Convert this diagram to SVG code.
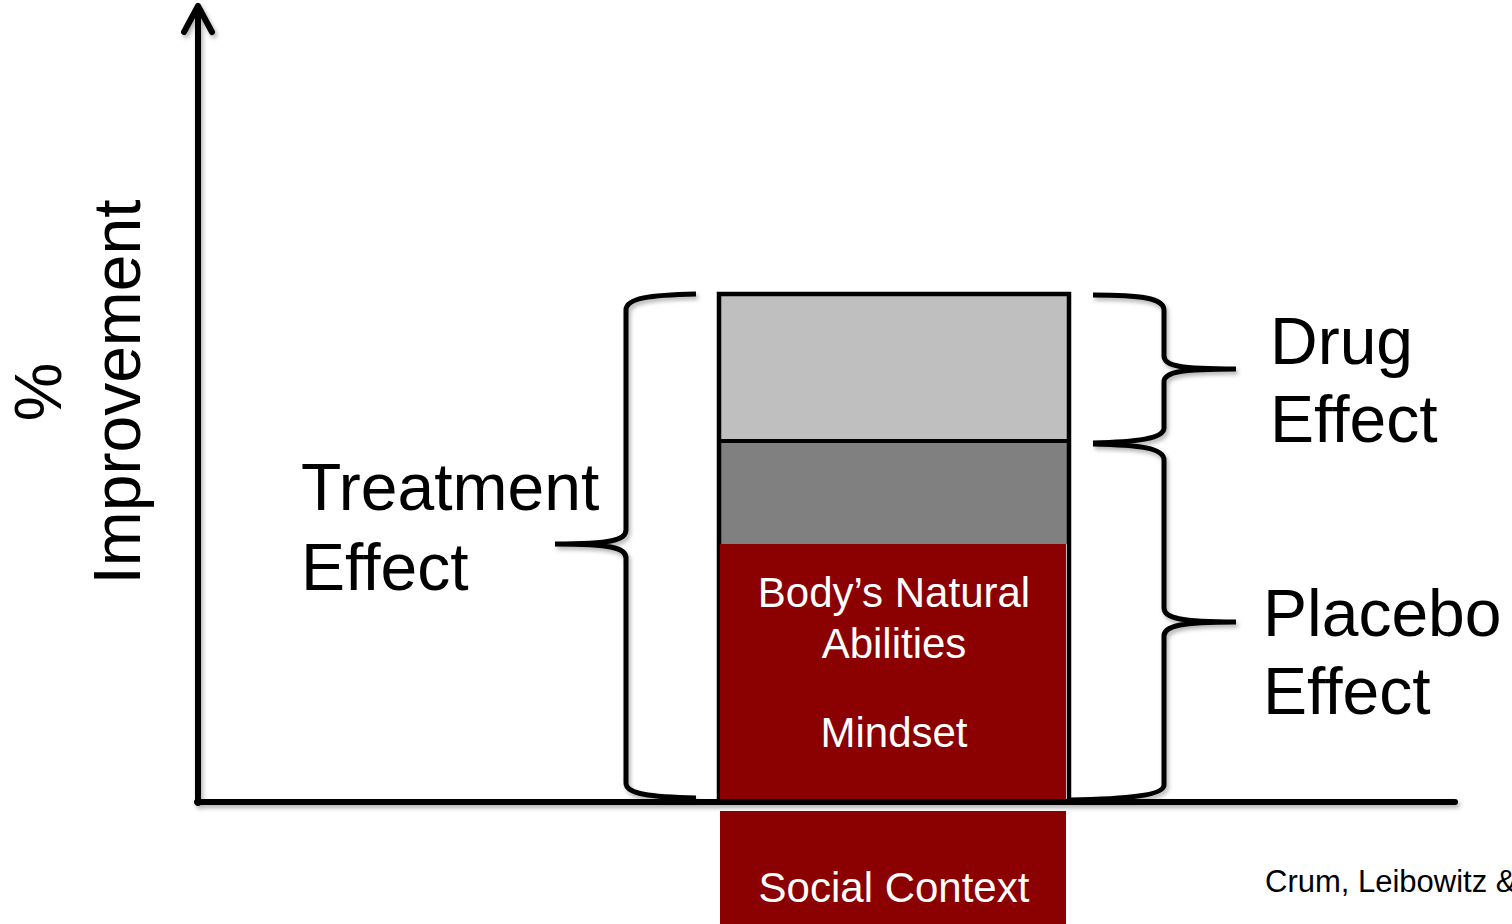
<svg xmlns="http://www.w3.org/2000/svg" width="1512" height="924" viewBox="0 0 1512 924">
<defs>
<filter id="sh" x="-10%" y="-10%" width="120%" height="120%">
<feDropShadow dx="2" dy="3" stdDeviation="2" flood-color="#000" flood-opacity="0.3"/>
</filter>
</defs>
<style>
.ln{fill:none;stroke:#000;stroke-width:6;stroke-linecap:round;stroke-linejoin:round}
.br{fill:none;stroke:#000;stroke-width:5;stroke-linecap:butt}
.big{font-family:"Liberation Sans",Arial,sans-serif;font-size:66px;fill:#000}
.wt{font-family:"Liberation Sans",Arial,sans-serif;font-size:42px;fill:#fff;text-anchor:middle}
.ax{font-family:"Liberation Sans",Arial,sans-serif;font-size:66px;fill:#000;text-anchor:middle}
</style>
<rect width="1512" height="924" fill="#fff"/>
<g id="axis-label">
<text class="ax" transform="translate(61,392) rotate(-90)">%</text>
<text class="ax" transform="translate(140,392) rotate(-90)">Improvement</text>
</g>
<g id="bar">
<rect x="719" y="294" width="350" height="147" fill="#bfbfbf"/>
<rect x="719" y="441" width="350" height="103" fill="#808080"/>
<rect x="719" y="294" width="350" height="508" fill="none" stroke="#000" stroke-width="4.5"/>
<line x1="719" y1="441" x2="1069" y2="441" stroke="#000" stroke-width="4"/>
<rect x="720" y="544" width="346" height="258" fill="#8b0000"/>
<text class="wt" x="894" y="607">Body’s Natural</text>
<text class="wt" x="894" y="658">Abilities</text>
<text class="wt" x="894" y="747">Mindset</text>
</g>
<g id="social-context">
<rect x="720" y="811" width="346" height="113" fill="#8b0000"/>
<text class="wt" x="894" y="902">Social Context</text>
</g>
<g id="connectors" filter="url(#sh)">
<path class="ln" d="M198 803 L198 8"/>
<path class="ln" d="M184 32 L198 6 L212 32"/>
<path class="ln" d="M197 802 L1455 802"/>
<path class="br" d="M696 294 C650 295 626 298 626 310 L626 530 C626 540 612 544 555 544 C612 544 626 548 626 558 L626 783 C626 794 650 797 696 798"/>
<path class="br" d="M1093 295 C1140 295 1164 298 1164 310 L1164 356 C1164 366 1180 369 1236 369 C1180 369 1164 372 1164 382 L1164 428 C1164 438 1140 442 1093 443"/>
<path class="br" d="M1093 444 C1140 445 1164 448 1164 460 L1164 608 C1164 618 1180 622 1236 622 C1180 622 1164 626 1164 636 L1164 785 C1164 795 1130 799 1070 800"/>
</g>
<g id="treatment-effect">
<text class="big" x="301" y="510">Treatment</text>
<text class="big" x="301" y="590">Effect</text>
</g>
<g id="drug-effect">
<text class="big" x="1270" y="364">Drug</text>
<text class="big" x="1270" y="442">Effect</text>
</g>
<g id="placebo-effect">
<text class="big" x="1263" y="636">Placebo</text>
<text class="big" x="1263" y="714">Effect</text>
</g>
<g id="citation">
<text x="1265" y="892" font-family="Liberation Sans, Arial, sans-serif" font-size="31" fill="#000">Crum, Leibowitz &amp;</text>
</g>
</svg>
